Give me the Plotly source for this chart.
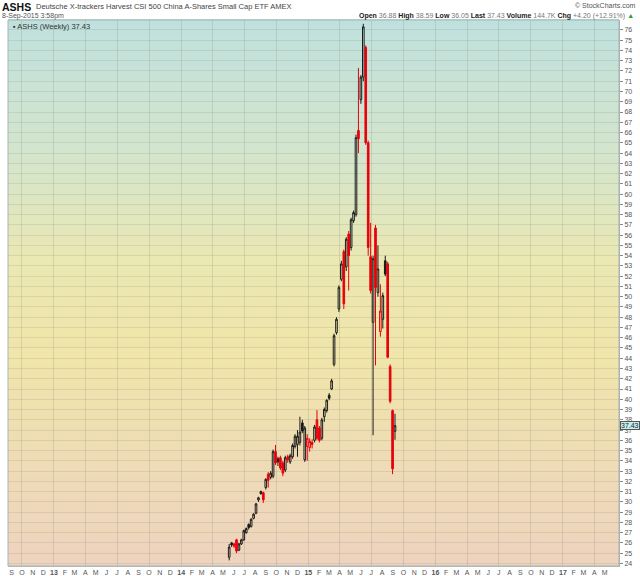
import plotly.graph_objects as go
import pandas as pd

# ---------------- data ----------------
weeks = [
    "2014-05-19", "2014-05-26", "2014-06-02", "2014-06-09", "2014-06-16", "2014-06-23", "2014-06-30",
    "2014-07-07", "2014-07-14", "2014-07-21", "2014-07-28", "2014-08-04", "2014-08-11", "2014-08-18",
    "2014-08-25", "2014-09-01", "2014-09-08", "2014-09-15", "2014-09-22", "2014-09-29", "2014-10-06",
    "2014-10-13", "2014-10-20", "2014-10-27", "2014-11-03", "2014-11-10", "2014-11-17", "2014-11-24",
    "2014-12-01", "2014-12-08", "2014-12-15", "2014-12-22", "2014-12-29", "2015-01-05", "2015-01-12",
    "2015-01-19", "2015-01-26", "2015-02-02", "2015-02-09", "2015-02-16", "2015-02-23", "2015-03-02",
    "2015-03-09", "2015-03-16", "2015-03-23", "2015-03-30", "2015-04-06", "2015-04-13", "2015-04-20",
    "2015-04-27", "2015-05-04", "2015-05-11", "2015-05-18", "2015-05-25", "2015-06-01", "2015-06-08",
    "2015-06-15", "2015-06-22", "2015-06-29", "2015-07-06", "2015-07-13", "2015-07-20", "2015-07-27",
    "2015-08-03", "2015-08-10", "2015-08-17", "2015-08-24", "2015-08-31", "2015-09-07",
]
opens = [24.6, 26.0, 25.9, 26.3, 25.3, 25.9, 26.3, 27.0, 27.8, 27.6, 28.4, 28.9, 30.2, 31.0,
         30.9, 31.4, 32.7, 32.4, 32.5, 34.9, 34.2, 34.3, 33.8, 33.1, 34.4, 33.9, 34.4, 35.4,
         35.6, 35.8, 37.7, 34.1, 35.4, 35.3, 35.8, 36.0, 38.0, 37.2, 36.2, 38.3, 38.9, 40.4,
         41.0, 43.4, 46.5, 48.8, 51.7, 54.4, 52.9, 56.1, 54.8, 57.4, 58.0, 66.2, 69.2, 71.4,
         74.3, 65.0, 53.9, 47.5, 56.7, 50.4, 46.6, 47.8, 53.5, 53.2, 43.2, 38.9, 36.88]
highs = [25.9, 26.1, 26.0, 26.4, 26.0, 26.4, 27.3, 27.5, 27.9, 28.4, 28.9, 29.9, 30.5, 31.1,
         31.0, 32.3, 32.9, 33.0, 35.1, 35.55, 34.4, 34.5, 34.0, 34.5, 34.6, 34.7, 35.7, 36.6,
         37.0, 38.3, 38.0, 37.4, 36.6, 36.2, 36.1, 37.5, 38.95, 37.4, 38.2, 39.2, 40.0, 40.6,
         42.0, 46.4, 48.0, 51.1, 53.5, 54.6, 55.8, 56.4, 57.7, 58.4, 65.8, 72.3, 71.6, 76.6,
         74.5, 65.2, 57.2, 54.0, 57.0, 55.0, 51.2, 50.4, 54.0, 53.4, 43.4, 39.0, 38.59]
lows = [24.3, 25.6, 25.5, 25.0, 25.2, 25.8, 26.2, 26.9, 27.3, 27.5, 28.3, 28.8, 30.0, 30.7,
        29.9, 31.2, 31.4, 32.2, 32.3, 33.6, 33.5, 33.1, 32.5, 32.9, 33.8, 33.7, 34.2, 35.2,
        34.4, 35.5, 36.7, 33.9, 34.0, 34.9, 35.2, 35.8, 36.0, 35.8, 36.0, 37.8, 38.7, 39.9,
        40.9, 43.2, 46.3, 48.5, 51.5, 48.8, 52.5, 50.6, 54.5, 57.2, 57.8, 64.0, 68.8, 71.0,
        64.8, 54.0, 50.3, 36.5, 43.3, 50.0, 46.1, 46.9, 52.0, 44.0, 39.6, 32.7, 36.05]
closes = [25.6, 25.8, 25.7, 25.2, 25.9, 26.3, 27.2, 27.4, 27.5, 28.3, 28.8, 29.8, 30.4, 30.8,
          30.2, 32.2, 32.1, 32.8, 34.9, 33.8, 33.9, 33.3, 32.8, 34.3, 34.1, 34.5, 35.5, 36.4,
          36.4, 36.8, 36.9, 37.2, 36.2, 35.9, 35.6, 37.3, 36.2, 36.0, 38.0, 39.0, 39.9, 40.1,
          41.8, 46.2, 47.8, 50.9, 53.2, 49.3, 55.6, 54.0, 57.5, 58.2, 65.5, 65.4, 71.4, 76.3,
          65.0, 54.8, 50.6, 53.7, 50.9, 52.7, 48.6, 50.1, 52.2, 44.1, 39.8, 33.23, 37.43]

y_ticks = list(range(24, 77))
month_labels = ["S", "O", "N", "D",
                "13", "F", "M", "A", "M", "J", "J", "A", "S", "O", "N", "D",
                "14", "F", "M", "A", "M", "J", "J", "A", "S", "O", "N", "D",
                "15", "F", "M", "A", "M", "J", "J", "A", "S", "O", "N", "D",
                "16", "F", "M", "A", "M", "J", "J", "A", "S", "O", "N", "D",
                "17", "F", "M", "A", "M"]
last_price = 37.43

# ---------------- styling ----------------
RED = "#e8000b"
BLACK = "#1a1a1a"
FONT = "Liberation Sans, Arial, sans-serif"
W, H = 640, 576
ML, MR, MT, MB = 8, 21, 20, 10
PW, PH = W - ML - MR, H - MT - MB

month_dates = [d.strftime("%Y-%m-%d") for d in
               pd.date_range("2012-09-01", periods=len(month_labels), freq="MS")]
tick_text = [("<b>%s</b>" % t) if t.isdigit() else t for t in month_labels]
quarter_dates = [d for d in month_dates if int(d[5:7]) in (1, 4, 7, 10)]
x_range = ["2012-08-22", "2017-06-11"]
y_range = [23.75, 76.97]

# split candles by colour: black if close >= previous close, red otherwise
groups = {BLACK: ([], [], [], [], []), RED: ([], [], [], [], [])}
for i in range(len(weeks)):
    prev = closes[i - 1] if i > 0 else opens[i]
    col = BLACK if closes[i] >= prev else RED
    g = groups[col]
    g[0].append(weeks[i]); g[1].append(opens[i]); g[2].append(highs[i])
    g[3].append(lows[i]); g[4].append(closes[i])

fig = go.Figure()
for col, g in groups.items():
    fig.add_trace(go.Candlestick(
        x=g[0], open=g[1], high=g[2], low=g[3], close=g[4],
        increasing=dict(line=dict(color=col, width=1), fillcolor="rgba(0,0,0,0)"),
        decreasing=dict(line=dict(color=col, width=1), fillcolor=col),
        showlegend=False, hoverinfo="skip",
    ))
# empty helper trace so the quarterly grid axis is drawn
fig.add_trace(go.Scatter(x=[], y=[], xaxis="x2", yaxis="y", showlegend=False))

# vertical gradient background (teal -> yellow -> peach)
stops = [(0.0, (191, 225, 222)), (0.25, (212, 229, 204)), (0.45, (235, 232, 178)),
         (0.62, (240, 229, 170)), (0.82, (239, 219, 182)), (1.0, (238, 211, 190))]


def interp(t):
    for (t0, c0), (t1, c1) in zip(stops[:-1], stops[1:]):
        if t0 <= t <= t1:
            f = (t - t0) / (t1 - t0)
            return "rgb(%d,%d,%d)" % tuple(round(a + (b - a) * f) for a, b in zip(c0, c1))
    return "rgb(%d,%d,%d)" % stops[-1][1]


N = 90
shapes = []
for k in range(N):
    t = (k + 0.5) / N
    shapes.append(dict(type="rect", xref="paper", yref="paper", x0=0, x1=1,
                       y0=1 - (k + 1) / N - 0.002, y1=1 - k / N + 0.002,
                       fillcolor=interp(t), line=dict(width=0), layer="below"))
shapes.append(dict(type="rect", xref="paper", yref="paper", x0=0, x1=1, y0=0, y1=1,
                   line=dict(color="#a9b3b3", width=1), layer="above"))


def py(pix):  # pixel row -> paper y
    return 1 - (pix - MT) / PH


def px(pix):  # pixel column -> paper x
    return (pix - ML) / PW


annotations = [
    dict(x=px(0), y=py(7), text="<b>ASHS</b>", font=dict(size=10.5, color="#111", family=FONT)),
    dict(x=px(34), y=py(6.5),
         text="Deutsche X-trackers Harvest CSI 500 China A-Shares Small Cap ETF AMEX",
         font=dict(size=7.5, color="#444", family=FONT)),
    dict(x=px(0), y=py(16), text="8-Sep-2015 3:58pm", font=dict(size=7, color="#555", family=FONT)),
    dict(x=px(638), y=py(5), text="© StockCharts.com", xanchor="right",
         font=dict(size=7, color="#555", family=FONT)),
    dict(x=px(636), y=py(15.5), xanchor="right",
         text=("<b>Open</b> <span style='color:#777'>36.88</span> <b>High</b> "
               "<span style='color:#777'>38.59</span> <b>Low</b> <span style='color:#777'>36.05</span> "
               "<b>Last</b> <span style='color:#777'>37.43</span> <b>Volume</b> "
               "<span style='color:#777'>144.7K</span> <b>Chg</b> "
               "<span style='color:#777'>+4.20 (+12.91%)</span> <span style='color:#2a9d2a'>▲</span>"),
         font=dict(size=7, color="#222", family=FONT)),
    dict(x=px(11), y=py(27), text="<span style='color:#333'>▪</span> ASHS (Weekly) 37.43",
         font=dict(size=7.5, color="#333", family=FONT)),
]
for a in annotations:
    a.update(xref="paper", yref="paper", showarrow=False, yanchor="middle")
    a.setdefault("xanchor", "left")
annotations.append(dict(x=1, xref="paper", y=last_price, yref="y", xanchor="left", yanchor="middle",
                        xshift=1, showarrow=False, text="37.43", bgcolor="#c4eeee",
                        bordercolor="#555", borderwidth=1, borderpad=0,
                        font=dict(size=7, color="#222", family=FONT)))

fig.update_layout(
    width=W, height=H,
    margin=dict(l=ML, r=MR, t=MT, b=MB, pad=0, autoexpand=False),
    paper_bgcolor="white", plot_bgcolor="#ece6b8",
    showlegend=False, boxgap=0.05,
    shapes=shapes, annotations=annotations,
    xaxis=dict(type="date", range=x_range, tickvals=month_dates, ticktext=tick_text,
               showgrid=False, zeroline=False, showline=True, linecolor="#b8c0c0",
               ticks="", tickfont=dict(size=7, color="#555", family=FONT),
               rangeslider=dict(visible=False), fixedrange=True),
    xaxis2=dict(type="date", range=x_range, overlaying="x", anchor="y", tickvals=quarter_dates,
                showticklabels=False, showgrid=True, gridcolor="rgba(120,130,120,0.22)",
                gridwidth=1, ticks="", zeroline=False, showline=False),
    yaxis=dict(side="right", range=y_range, tickvals=y_ticks, ticktext=[str(v) for v in y_ticks],
               showgrid=True, gridcolor="rgba(120,130,120,0.18)", gridwidth=1, zeroline=False,
               showline=True, linecolor="#a9b3b3", ticks="outside", ticklen=3, tickcolor="#888",
               tickfont=dict(size=7, color="#555", family=FONT)),
    font=dict(family=FONT),
)

fig.write_html("out.html", config={"displayModeBar": False, "staticPlot": True},
               post_script="document.body.style.margin='0px';")
